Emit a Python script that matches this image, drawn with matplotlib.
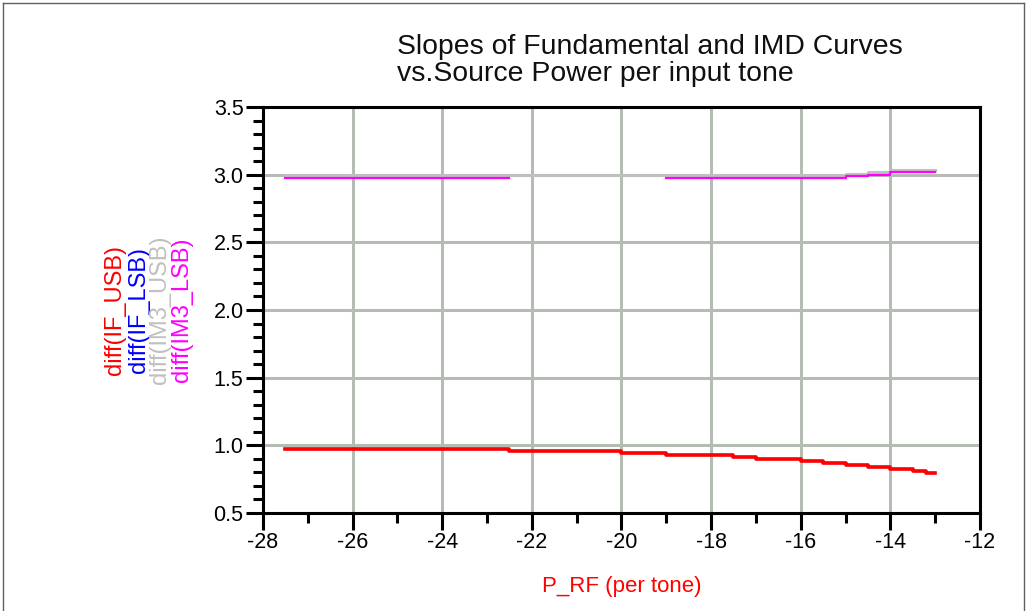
import numpy as np
import matplotlib.pyplot as plt
from matplotlib.ticker import MultipleLocator, FormatStrFormatter
from matplotlib.lines import Line2D

plt.rcParams['font.family'] = ['Liberation Sans', 'DejaVu Sans']
plt.rcParams['axes.unicode_minus'] = False

# step data (start of each step, last value repeated at the end)
p_if = [-27.5, -22.5, -20, -19, -17.5, -17, -16, -15.5, -15, -14.5, -14, -13.5, -13.2, -13.0]
if_usb = [0.975, 0.957, 0.943, 0.930, 0.915, 0.900, 0.887, 0.868, 0.857, 0.841, 0.826, 0.812, 0.797, 0.797]
if_lsb = [0.975, 0.957, 0.943, 0.930, 0.915, 0.900, 0.887, 0.868, 0.857, 0.841, 0.826, 0.812, 0.797, 0.797]

p_im3u = [-27.5, -15, -14.5, -14, -13]
im3_usb = [3.0, 3.005, 3.02, 3.038, 3.038]

# gap between -22.5 and -19 (trace hidden there in the original)
p_im3l = [-27.5, -22.5, -19, -15, -14.5, -14, -13]
im3_lsb = [2.978, np.nan, 2.973, 2.987, 3.0, 3.016, 3.016]

labels = ['diff(IF_USB)', 'diff(IF_LSB)', 'diff(IM3_USB)', 'diff(IM3_LSB)']
colors = ['#ff0000', '#0000ff', '#c0c0c0', '#ff00ff']

fig = plt.figure(figsize=(10.3, 6.11), dpi=100)
ax = fig.add_axes([0.2553, 0.1604, 0.6961, 0.6645])

ax.plot(p_im3u, im3_usb, drawstyle='steps-post', color=colors[2], lw=2.2, zorder=3)
ax.plot(p_im3l, im3_lsb, drawstyle='steps-post', color=colors[3], lw=1.6, zorder=4)
ax.plot(p_if, if_lsb, drawstyle='steps-post', color=colors[1], lw=1.6, zorder=5)
ax.plot(p_if, if_usb, drawstyle='steps-post', color=colors[0], lw=2.6, zorder=6)

ax.set_xlim(-28, -12)
ax.set_ylim(0.5, 3.5)
ax.xaxis.set_major_locator(MultipleLocator(2))
ax.xaxis.set_minor_locator(MultipleLocator(1))
ax.yaxis.set_major_locator(MultipleLocator(0.5))
ax.yaxis.set_minor_locator(MultipleLocator(0.1))
ax.yaxis.set_major_formatter(FormatStrFormatter('%.1f'))

ax.grid(True, which='major', color='#b4bcb4', lw=2.2, zorder=1)
ax.set_axisbelow(True)
for s in ax.spines.values():
    s.set_linewidth(2.2)
    s.set_color('black')
    s.set_zorder(10)

ax.tick_params(which='both', direction='out', top=False, right=False, width=2.2, color='black')
ax.tick_params(which='major', length=12, labelsize=15.5, pad=2)
ax.tick_params(which='minor', length=7)

ax.set_xlabel('P_RF (per tone)', color='#ff0000', fontsize=16, labelpad=16)

# stacked, coloured y labels
ylab_x = [0.1117, 0.1350, 0.1553, 0.1767]
for lab, c, x in zip(labels, colors, ylab_x):
    fig.text(x, 0.4926, lab, color=c, rotation=90, fontsize=17, ha='center', va='center')

fig.text(0.3854, 0.945, 'Slopes of Fundamental and IMD Curves\nvs.Source Power per input tone',
         fontsize=20.4, ha='left', va='top', linespacing=1.05, color='#101010')

# outer frame of the picture
for xs, ys in [([0.003, 0.003], [0.0, 0.995]), ([0.003, 0.994], [0.995, 0.995]), ([0.994, 0.994], [0.0, 0.995])]:
    fig.add_artist(Line2D(xs, ys, color='#606060', lw=1.0, transform=fig.transFigure))

fig.savefig('out.png', dpi=100)
